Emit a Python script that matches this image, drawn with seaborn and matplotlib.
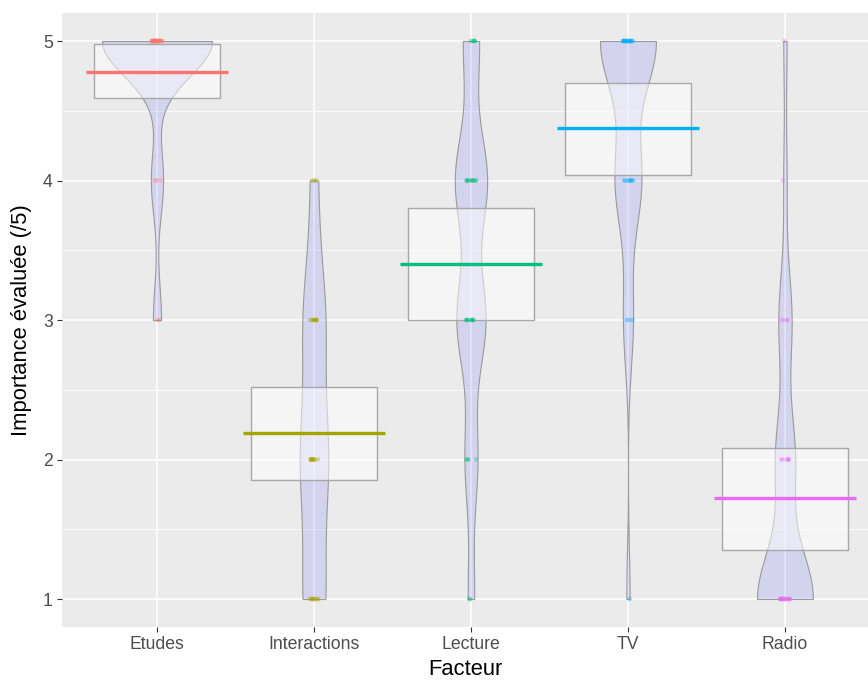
import numpy as np
import pandas as pd
import matplotlib
matplotlib.use("Agg")
import matplotlib.pyplot as plt
from matplotlib.ticker import MultipleLocator
import seaborn as sns

# ---------------- data ----------------
categories = ["Etudes", "Interactions", "Lecture", "TV", "Radio"]
score_levels = [1, 2, 3, 4, 5]
# number of answers for each score 1..5
counts_etudes = [0, 0, 2, 3, 27]
counts_interactions = [9, 11, 9, 3, 0]
counts_lecture = [2, 4, 9, 10, 5]
counts_tv = [1, 0, 3, 8, 17]
counts_radio = [17, 6, 4, 1, 1]
# inference band (95% CI of mean)
ci_low = [4.59, 1.85, 3.00, 4.04, 1.35]
ci_high = [4.975, 2.52, 3.80, 4.70, 2.08]
colors = ["#F8766D", "#A3A500", "#00BF7D", "#00B0F6", "#E76BF3"]

all_counts = [counts_etudes, counts_interactions, counts_lecture, counts_tv, counts_radio]
rows = []
for cat, cnts in zip(categories, all_counts):
    for lvl, c in zip(score_levels, cnts):
        rows += [(cat, lvl)] * c
df = pd.DataFrame(rows, columns=["Facteur", "Score"])
df["Score"] = df["Score"].astype(float)

# ---------------- style ----------------
sns.set_theme(style="darkgrid")
plt.rcParams["font.family"] = ["Liberation Sans", "DejaVu Sans"]
plt.rcParams["axes.facecolor"] = "#EBEBEB"

fig = plt.figure(figsize=(8.68, 6.8), dpi=100)
ax = fig.add_axes([62 / 868, 1 - 626.9 / 680, 806 / 868, 613.8 / 680])


def nrd0(v):
    sd = v.std(ddof=1)
    q75, q25 = np.percentile(v, [75, 25])
    lo = min(sd, (q75 - q25) / 1.34)
    if lo == 0:
        lo = sd
    h = 0.9 * lo * len(v) ** -0.2
    return h, h / sd


def peak_density(v, h):
    grid = np.linspace(v.min(), v.max(), 600)
    d = np.exp(-0.5 * ((grid[:, None] - v[None, :]) / h) ** 2).sum(1)
    return (d / (len(v) * h * np.sqrt(2 * np.pi))).max()


bw = {}
peaks = {}
for cat in categories:
    v = df.loc[df.Facteur == cat, "Score"].to_numpy()
    h, f = nrd0(v)
    bw[cat] = f
    peaks[cat] = peak_density(v, h)
max_peak = max(peaks.values())

# violins (equal area)
for cat in categories:
    sub = df[df.Facteur == cat]
    n0 = len(ax.collections)
    sns.violinplot(data=sub, x="Facteur", y="Score", order=categories, ax=ax,
                   bw_method=bw[cat], cut=0, inner=None, density_norm="width",
                   width=0.70 * peaks[cat] / max_peak, color="blue", saturation=1,
                   linecolor="#9a9a9a", linewidth=0.8, gridsize=400)
    for coll in ax.collections[n0:]:
        coll.set_facecolor((0, 0, 1, 0.1))
        coll.set_zorder(2)

xpos = np.arange(len(categories))
means = df.groupby("Facteur")["Score"].mean().reindex(categories).to_numpy()

# inference bands
ax.bar(xpos, np.array(ci_high) - np.array(ci_low), bottom=ci_low, width=0.8,
       color=(1, 1, 1, 0.5), edgecolor="#a8a8a8", linewidth=1.0, zorder=3)

# raw points
np.random.seed(3)
sns.stripplot(data=df, x="Facteur", y="Score", hue="Facteur", order=categories,
              hue_order=categories, palette=dict(zip(categories, colors)),
              jitter=0.035, size=3.3, alpha=0.35, linewidth=0, legend=False,
              ax=ax, zorder=4)

# mean lines
ax.hlines(means, xpos - 0.45, xpos + 0.45, colors=colors, linewidth=2.4, zorder=5)

# axes
ax.set_xlim(-0.605, 4.529)
ax.set_ylim(0.8, 5.2)
ax.set_yticks([1, 2, 3, 4, 5])
ax.set_yticklabels(["1", "2", "3", "4", "5"])
ax.yaxis.set_minor_locator(MultipleLocator(0.5))
ax.set_axisbelow(True)
ax.grid(which="major", color="white", linewidth=1.1)
ax.grid(which="minor", axis="y", color="white", linewidth=0.55)
ax.grid(which="minor", axis="x", visible=False)
for s in ax.spines.values():
    s.set_visible(False)
ax.tick_params(axis="both", which="major", bottom=True, left=True, length=3.6,
               width=0.8, color="#333333", labelcolor="#4D4D4D", labelsize=12.7, pad=3)
ax.tick_params(axis="both", which="minor", length=0)
ax.set_xlabel("Facteur", fontsize=15.8, color="black", labelpad=4)
ax.set_ylabel("Importance évaluée (/5)", fontsize=15.8, color="black", labelpad=8)

fig.savefig("out.png", dpi=100)
